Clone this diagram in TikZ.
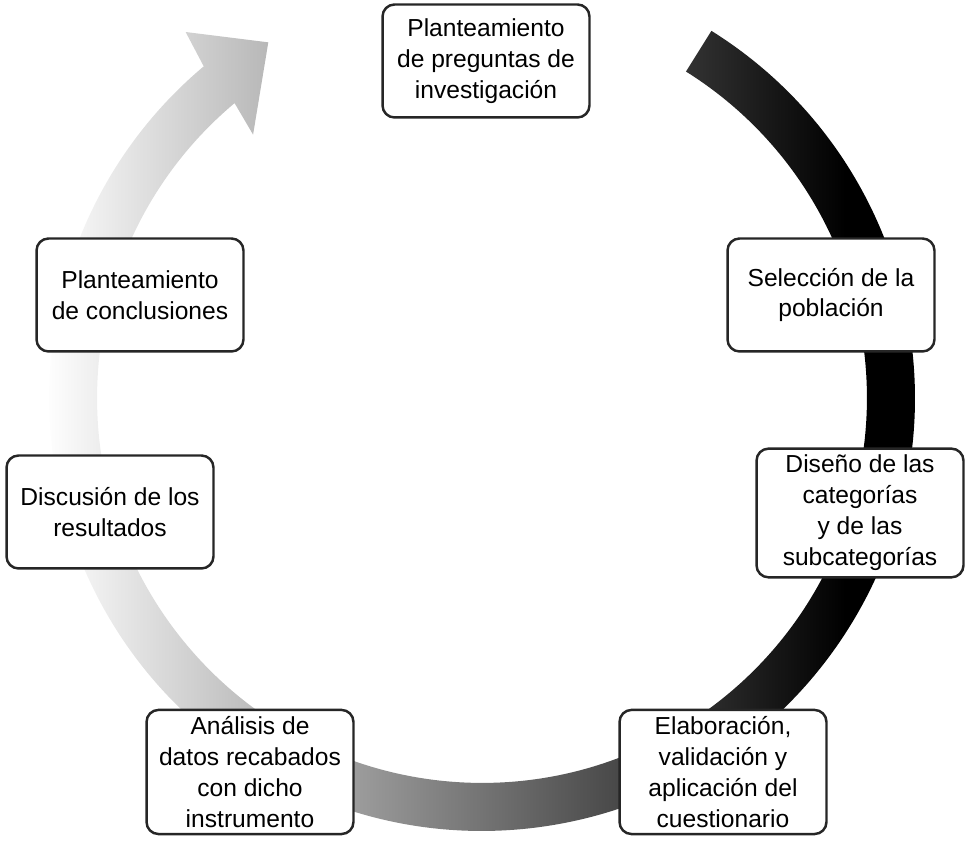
\documentclass[tikz,border=0pt]{standalone}
\usepackage{fontspec}
\setmainfont{Liberation Sans}
\usetikzlibrary{positioning, calc}
\pgfdeclarehorizontalshading{ringshade}{100bp}{color(0bp)=(white); color(25bp)=(white); color(68bp)=(black); color(100bp)=(black)}

\begin{document}
\begin{tikzpicture}[x=0.02cm, y=0.02cm,
    stage/.style={rectangle, rounded corners=0.24cm, draw=black!85, line width=1.4pt, fill=white, align=center, minimum width=4.14cm, minimum height=2.26cm, inner sep=0.13cm, font=\fontsize{14}{17.6}\selectfont},
    ring/.style={shading=ringshade}
]
\useasboundingbox (0,0) rectangle (970,847);

% cycle arrow
\begin{scope}[shift={(482,449)}]
\shade[ring] (58:8.66cm) arc (58:-230:8.66cm) -- (129:9.42cm) -- (121:8.3cm) -- (131:6.98cm) -- (130:7.7cm) arc (-230:58:7.7cm) -- cycle;
\end{scope}

\node[stage] (preguntas) at (486,786) {Planteamiento\\de preguntas de\\investigación};
\node[stage] (poblacion) at (831,552) {Selección de la\\población};
\node[stage] (categorias) at (860,334) {Diseño de las\\categorías\\y de las\\subcategorías};
\node[stage] (cuestionario) at (723,75) {Elaboración,\\validación y\\aplicación del\\cuestionario};
\node[stage] (analisis) at (250,75) {Análisis de\\datos recabados\\con dicho\\instrumento};
\node[stage] (discusion) at (110,335) {Discusión de los\\resultados};
\node[stage] (conclusiones) at (140,552) {Planteamiento\\de conclusiones};
\end{tikzpicture}
\end{document}
